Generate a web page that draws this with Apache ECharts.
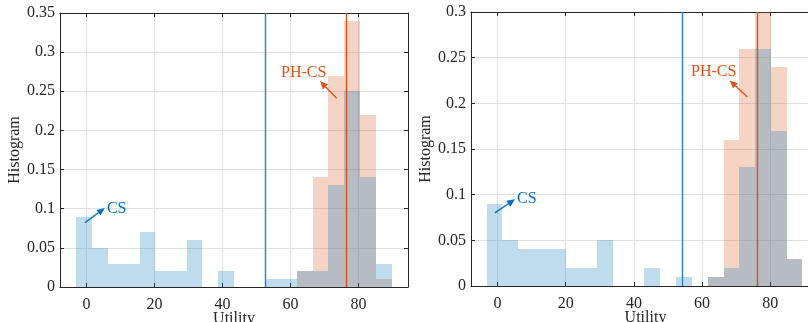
<!DOCTYPE html>
<html>
<head>
<meta charset="utf-8">
<script src="https://cdn.jsdelivr.net/npm/echarts@6/dist/echarts.min.js"></script>
<style>
html, body { margin: 0; padding: 0; background: #fff; overflow: hidden; }
#chart { width: 808px; height: 322px; }
</style>
</head>
<body>
<div id="chart"></div>
<script>
// left panel: bin edges (Utility) and normalised counts
const edgesL = [-3.0, 1.6, 6.3, 10.9, 15.6, 20.2, 24.8, 29.5, 34.1, 38.8, 43.4, 48.0, 52.7, 57.3, 62.0, 66.6, 71.2, 75.9, 80.5, 85.2, 89.8];
const csL = [0.09, 0.05, 0.03, 0.03, 0.07, 0.02, 0.02, 0.06, 0, 0.02, 0, 0, 0.01, 0.01, 0.02, 0.02, 0.13, 0.25, 0.14, 0.03];
const phcsL = [0, 0, 0, 0, 0, 0, 0, 0, 0, 0, 0, 0, 0, 0, 0.02, 0.14, 0.27, 0.34, 0.22, 0.01];
const meanL = [52.7, 76.4];           // CS, PH-CS vertical lines
// annotation: arrow from (x,y) to (x,y), then label position
const noteCsL = [-0.5, 0.082, 5.4, 0.101, 6.0, 0.100];
const notePhL = [73.6, 0.241, 68.7, 0.263, 63.9, 0.274];

// right panel
const edgesR = [-3.2, 1.4, 6.1, 10.7, 15.3, 20.0, 24.6, 29.2, 33.8, 38.5, 43.1, 47.7, 52.4, 57.0, 61.6, 66.3, 70.9, 75.5, 80.1, 84.8, 89.4];
const csR = [0.09, 0.05, 0.04, 0.04, 0.04, 0.02, 0.02, 0.05, 0, 0, 0.02, 0, 0.01, 0, 0.01, 0.02, 0.13, 0.26, 0.17, 0.03];
const phcsR = [0, 0, 0, 0, 0, 0, 0, 0, 0, 0, 0, 0, 0, 0, 0.01, 0.16, 0.26, 0.30, 0.24, 0.03];
const meanR = [54.1, 76.2];
const noteCsR = [-0.8, 0.080, 5.1, 0.095, 5.7, 0.095];
const notePhR = [73.3, 0.207, 68.1, 0.225, 63.4, 0.234];

const xRange = [-7.8, 94.6];
const yMax = [0.35, 0.3];

const BLUE = '#0072BD';
const ORANGE = '#D95319';
const INK = '#262626';
const FONT = 'Liberation Serif';

const chart = echarts.init(document.getElementById('chart'));

function xAxes(g) {
  return [
    {
      gridIndex: g, type: 'value', min: xRange[0], max: xRange[1], position: 'bottom',
      axisLine: { show: true, onZero: false, lineStyle: { color: INK } },
      axisTick: { inside: true, length: 4, lineStyle: { color: INK } },
      axisLabel: {
        color: INK, fontFamily: FONT, fontSize: 16, margin: 10,
        showMinLabel: false, showMaxLabel: false,
        formatter: (v) => (Math.abs(v % 20) < 1e-6 ? String(v) : ''),
      },
      splitLine: { show: true, lineStyle: { color: '#e2e2e2' } },
      name: 'Utility', nameLocation: 'middle', nameGap: 24, nameMoveOverlap: false,
      nameTextStyle: { color: INK, fontFamily: FONT, fontSize: 16 },
    },
    {
      gridIndex: g, type: 'value', min: xRange[0], max: xRange[1], position: 'top',
      axisLine: { show: true, onZero: false, lineStyle: { color: INK } },
      axisTick: { inside: true, length: 4, lineStyle: { color: INK } },
      axisLabel: { show: false },
      splitLine: { show: false },
    },
  ];
}

function yAxes(g) {
  return [
    {
      gridIndex: g, type: 'value', min: 0, max: yMax[g], interval: 0.05, position: 'left',
      axisLine: { show: true, onZero: false, lineStyle: { color: INK } },
      axisTick: { show: true, inside: true, length: 4, lineStyle: { color: INK } },
      axisLabel: { color: INK, fontFamily: FONT, fontSize: 16, margin: 5 },
      splitLine: { show: true, lineStyle: { color: '#e2e2e2' } },
      name: 'Histogram', nameLocation: 'middle', nameGap: 37, nameMoveOverlap: false,
      nameTextStyle: { color: INK, fontFamily: FONT, fontSize: 16 },
    },
    {
      gridIndex: g, type: 'value', min: 0, max: yMax[g], interval: 0.05, position: 'right',
      axisLine: { show: true, onZero: false, lineStyle: { color: INK } },
      axisTick: { show: true, inside: true, length: 4, lineStyle: { color: INK } },
      axisLabel: { show: false },
      splitLine: { show: false },
    },
  ];
}

function histSeries(g, edges, vals, fill, mean, lineColor) {
  return {
    type: 'custom',
    xAxisIndex: g * 2,
    yAxisIndex: g * 2,
    data: vals.map((v, i) => [edges[i], edges[i + 1], v]),
    encode: { x: [0, 1], y: 2 },
    renderItem(params, api) {
      const top = api.coord([api.value(0), api.value(2)]);
      const base = api.coord([api.value(1), 0]);
      const x0 = Math.round(top[0]);
      const x1 = Math.round(base[0]);
      const y0 = Math.round(top[1]);
      const y1 = Math.round(base[1]);
      return {
        type: 'rect',
        shape: { x: x0, y: y0, width: x1 - x0, height: y1 - y0 },
        style: { fill },
      };
    },
    markLine: {
      silent: true,
      symbol: ['none', 'none'],
      label: { show: false },
      lineStyle: { color: lineColor, width: 1.4, type: 'solid' },
      data: [{ xAxis: mean }],
    },
    z: 2,
  };
}

function noteSeries(g, note, text, color, align) {
  return {
    type: 'custom',
    xAxisIndex: g * 2,
    yAxisIndex: g * 2,
    data: [note],
    renderItem(params, api) {
      const a = api.coord([api.value(0), api.value(1)]);
      const b = api.coord([api.value(2), api.value(3)]);
      const t = api.coord([api.value(4), api.value(5)]);
      const ang = Math.atan2(b[1] - a[1], b[0] - a[0]);
      const len = 8, half = 3.5;
      const bx = b[0] - len * Math.cos(ang);
      const by = b[1] - len * Math.sin(ang);
      const nx = -Math.sin(ang) * half;
      const ny = Math.cos(ang) * half;
      return {
        type: 'group',
        children: [
          { type: 'line', shape: { x1: a[0], y1: a[1], x2: bx, y2: by }, style: { stroke: color, lineWidth: 1.4 } },
          { type: 'polygon', shape: { points: [[b[0], b[1]], [bx + nx, by + ny], [bx - nx, by - ny]] }, style: { fill: color } },
          {
            type: 'text', x: t[0], y: t[1],
            style: { text, fill: color, font: '16px "Liberation Serif"', align, verticalAlign: 'middle' },
          },
        ],
      };
    },
    z: 5,
  };
}

chart.setOption({
  animation: false,
  backgroundColor: '#fff',
  grid: [
    { left: 60, top: 13, width: 348, height: 274, containLabel: false, outerBoundsMode: 'none' },
    { left: 471, top: 12, width: 349, height: 274, containLabel: false, outerBoundsMode: 'none' },
  ],
  xAxis: [...xAxes(0), ...xAxes(1)],
  yAxis: [...yAxes(0), ...yAxes(1)],
  series: [
    histSeries(0, edgesL, phcsL, 'rgba(217,83,25,0.25)', meanL[1], ORANGE),
    histSeries(0, edgesL, csL, 'rgba(0,114,189,0.25)', meanL[0], '#1f84cc'),
    noteSeries(0, noteCsL, 'CS', BLUE, 'left'),
    noteSeries(0, notePhL, 'PH-CS', ORANGE, 'center'),
    histSeries(1, edgesR, phcsR, 'rgba(217,83,25,0.25)', meanR[1], ORANGE),
    histSeries(1, edgesR, csR, 'rgba(0,114,189,0.25)', meanR[0], '#1f84cc'),
    noteSeries(1, noteCsR, 'CS', BLUE, 'left'),
    noteSeries(1, notePhR, 'PH-CS', ORANGE, 'center'),
  ],
});
</script>
</body>
</html>
